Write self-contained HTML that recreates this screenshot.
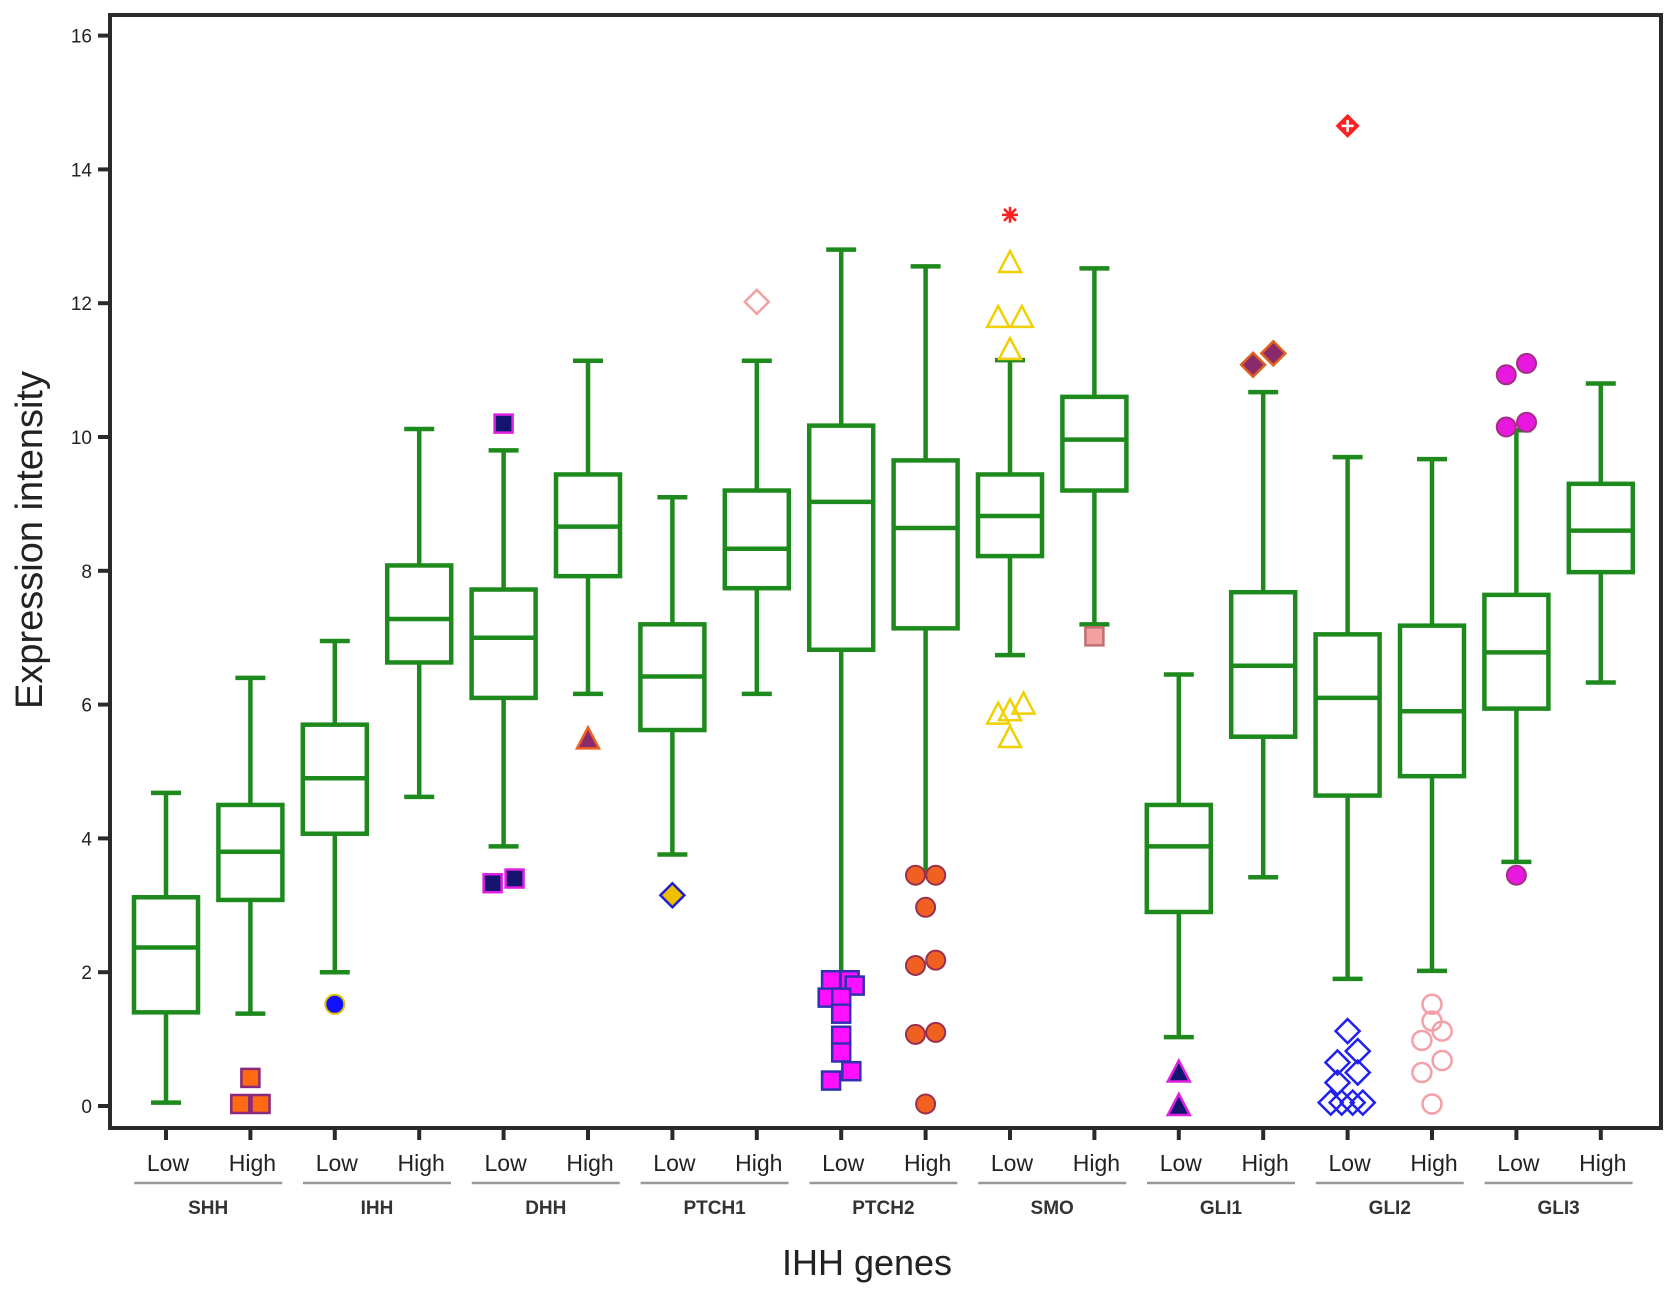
<!DOCTYPE html>
<html><head><meta charset="utf-8"><style>
html,body{margin:0;padding:0;background:#fff}
svg{display:block;font-family:"Liberation Sans",Arial,sans-serif}
</style></head><body>
<svg id="chart" width="1677" height="1296" viewBox="0 0 1677 1296" xmlns="http://www.w3.org/2000/svg">
<rect x="110" y="15" width="1551" height="1113" fill="none" stroke="#2a2a2a" stroke-width="4"/>
<g id="yaxis"></g>
<g id="boxes"></g>
<g id="outliers"></g>
<g id="xaxis"></g>
<text x="0" y="0" transform="translate(42,540) rotate(-90)" text-anchor="middle" font-size="38" fill="#222">Expression intensity</text>
<text x="867" y="1275" text-anchor="middle" font-size="36" fill="#222">IHH genes</text>
</svg>
<script>
const genes=["SHH","IHH","DHH","PTCH1","PTCH2","SMO","GLI1","GLI2","GLI3"];
const levels=["Low","High"];
const yTicks=[0,2,4,6,8,10,12,14,16];
const whiskLow=[0.05,1.38,2.0,4.62,3.88,6.16,3.76,6.16,1.9,3.5,6.74,7.2,1.03,3.42,1.9,2.02,3.65,6.33];
const q1=[1.4,3.08,4.07,6.63,6.1,7.92,5.62,7.74,6.82,7.14,8.22,9.2,2.9,5.52,4.64,4.93,5.94,7.98];
const medians=[2.37,3.8,4.9,7.28,7.0,8.66,6.42,8.33,9.03,8.64,8.82,9.96,3.88,6.58,6.1,5.9,6.78,8.6];
const q3=[3.12,4.5,5.7,8.08,7.72,9.44,7.2,9.2,10.17,9.65,9.44,10.6,4.5,7.68,7.05,7.18,7.64,9.3];
const whiskHigh=[4.68,6.4,6.95,10.12,9.8,11.14,9.1,11.14,12.8,12.55,11.15,12.52,6.45,10.67,9.7,9.67,10.1,10.8];
// outliers: [boxIndex, value, jitter(category units), style]
const outlierData=[
[1,0.42,0,"osq"],[1,0.03,-0.12,"osq"],[1,0.03,0.12,"osq"],
[2,1.52,0,"bcirc"],
[4,10.2,0,"nsq"],[4,3.33,-0.13,"nsq"],[4,3.4,0.13,"nsq"],
[5,5.48,0,"ptri"],
[6,3.15,0,"ydia"],
[7,12.02,0,"pdia"],
[8,1.88,-0.12,"msq"],[8,1.88,0.1,"msq"],[8,1.8,0.16,"msq"],[8,1.62,-0.16,"msq"],[8,1.62,0,"msq"],[8,1.38,0,"msq"],[8,1.05,0,"msq"],[8,0.8,0,"msq"],[8,0.52,0.12,"msq"],[8,0.38,-0.12,"msq"],
[9,3.45,-0.12,"ocirc"],[9,3.45,0.12,"ocirc"],[9,2.97,0,"ocirc"],[9,2.1,-0.12,"ocirc"],[9,2.18,0.12,"ocirc"],[9,1.07,-0.12,"ocirc"],[9,1.1,0.12,"ocirc"],[9,0.03,0,"ocirc"],
[10,13.32,0,"star"],[10,12.6,0,"ytri"],[10,11.78,-0.14,"ytri"],[10,11.78,0.14,"ytri"],[10,11.3,0,"ytri"],[10,5.85,-0.14,"ytri"],[10,5.9,0,"ytri"],[10,6.0,0.16,"ytri"],[10,5.5,0,"ytri"],
[11,7.02,0,"psq"],
[12,0.5,0,"ntri"],[12,0.0,0,"ntri"],
[13,11.08,-0.12,"bdia"],[13,11.25,0.12,"bdia"],
[14,14.65,0,"rplus"],[14,1.12,0,"odia"],[14,0.82,0.12,"odia"],[14,0.65,-0.12,"odia"],[14,0.5,0.12,"odia"],[14,0.35,-0.12,"odia"],[14,0.05,-0.2,"odia"],[14,0.05,-0.07,"odia"],[14,0.05,0.06,"odia"],[14,0.05,0.18,"odia"],
[15,1.52,0,"pcirc"],[15,1.27,0,"pcirc"],[15,1.12,0.12,"pcirc"],[15,0.98,-0.12,"pcirc"],[15,0.68,0.12,"pcirc"],[15,0.5,-0.12,"pcirc"],[15,0.03,0,"pcirc"],
[16,10.93,-0.12,"mcirc"],[16,11.1,0.12,"mcirc"],[16,10.15,-0.12,"mcirc"],[16,10.22,0.12,"mcirc"],[16,3.45,0,"mcirc"]
];
const NS="http://www.w3.org/2000/svg";
const y0=1106, yUnit=66.9, x0=166, xStep=84.4, bw=64, cap=30, G="#1e8a1e";
const yS=v=>y0-v*yUnit;
const xS=i=>x0+i*xStep;
function mk(tag,attrs,parent){const e=document.createElementNS(NS,tag);for(const k in attrs)e.setAttribute(k,attrs[k]);parent.appendChild(e);return e;}
const ya=document.getElementById('yaxis');
yTicks.forEach(t=>{
 const l=mk('line',{x1:98,x2:110,y1:yS(t),y2:yS(t),stroke:'#2a2a2a','stroke-width':4},ya);
 
 
 const tx=mk('text',{x:92,y:yS(t)+7,'text-anchor':'end','font-size':19,fill:'#222'},ya);
 tx.textContent=t;
 
 
});
const bx=document.getElementById('boxes');
medians.forEach((m,i)=>{
 const g=mk('g',{fill:'none',stroke:G,'stroke-width':4.5},bx);
 
 
 const x=xS(i);
 mk('line',{x1:x,x2:x,y1:yS(whiskLow[i]),y2:yS(q1[i])},g);
 mk('line',{x1:x,x2:x,y1:yS(q3[i]),y2:yS(whiskHigh[i])},g);
 mk('line',{x1:x-cap/2,x2:x+cap/2,y1:yS(whiskLow[i]),y2:yS(whiskLow[i])},g);
 mk('line',{x1:x-cap/2,x2:x+cap/2,y1:yS(whiskHigh[i]),y2:yS(whiskHigh[i])},g);
 mk('rect',{x:x-bw/2,y:yS(q3[i]),width:bw,height:yS(q1[i])-yS(q3[i]),fill:'#fff'},g);
 mk('line',{x1:x-bw/2,x2:x+bw/2,y1:yS(m),y2:yS(m)},g);
});
const og=document.getElementById('outliers');
const S={osq:['sq','#ff6a13','#8a2a7a'],nsq:['sq','#14146e','#e020e0'],msq:['sq','#ff10ff','#3030b0'],psq:['sq','#f4a0a0','#c07070'],
bcirc:['ci','#1010ff','#e0c000'],ocirc:['ci','#f06020','#9a3050'],pcirc:['ci','none','#f4a0a8'],mcirc:['ci','#e818e0','#a03080'],
ptri:['tr','#8a2a6a','#f06020'],ytri:['tr','none','#f0d000'],ntri:['tr','#14146e','#e020e0'],
ydia:['di','#f0c000','#2020d0'],pdia:['di','none','#f4a0a0'],bdia:['di','#8a2a6a','#e06020'],odia:['di','none','#2020f0'],
rplus:['rp','#ff2020','#ff2020'],star:['st','none','#ff2020']};
outlierData.forEach(o=>{
 const [bi,v,j,st]=o;const [sh,f,s]=S[st];
 const x=xS(bi)+j*xStep, y=yS(v);
 let e;
 if(sh==='sq')e=mk('rect',{x:x-9,y:y-9,width:18,height:18,fill:f,stroke:s,'stroke-width':2.5},og);
 else if(sh==='ci')e=mk('circle',{cx:x,cy:y,r:9.5,fill:f,stroke:s,'stroke-width':f==='none'?2.5:2},og);
 else if(sh==='tr')e=mk('polygon',{points:`${x},${y-12} ${x-11},${y+9} ${x+11},${y+9}`,fill:f,stroke:s,'stroke-width':2.5},og);
 else if(sh==='di')e=mk('polygon',{points:`${x},${y-12} ${x+12},${y} ${x},${y+12} ${x-12},${y}`,fill:f,stroke:s,'stroke-width':2.5},og);
 else if(sh==='rp'){e=mk('g',{},og);mk('polygon',{points:`${x},${y-12} ${x+12},${y} ${x},${y+12} ${x-12},${y}`,fill:f},e);mk('path',{d:`M${x-6} ${y}H${x+6}M${x} ${y-6}V${y+6}`,stroke:'#fff','stroke-width':2.5},e);}
 else {e=mk('path',{d:`M${x-8} ${y}H${x+8}M${x} ${y-8}V${y+8}M${x-6} ${y-6}L${x+6} ${y+6}M${x+6} ${y-6}L${x-6} ${y+6}`,stroke:s,'stroke-width':2.5},og);}
 
 
});
const xa=document.getElementById('xaxis');
medians.forEach((m,i)=>{
 const x=xS(i);
 const t=mk('line',{x1:x,x2:x,y1:1128,y2:1140,stroke:'#2a2a2a','stroke-width':4},xa);
 
 
 const tx=mk('text',{x:x+2,y:1171,'text-anchor':'middle','font-size':23,fill:'#222'},xa);
 tx.textContent=levels[i%2];
 
 
});
genes.forEach((g,k)=>{
 const xc=(xS(2*k)+xS(2*k+1))/2;
 const l=mk('line',{x1:xc-74,x2:xc+74,y1:1183,y2:1183,stroke:'#999','stroke-width':2.5},xa);
 
 
 const tx=mk('text',{x:xc,y:1214,'text-anchor':'middle','font-size':19,'font-weight':'bold',fill:'#333'},xa);
 tx.textContent=g;
 
 
});
</script>
</body></html>
